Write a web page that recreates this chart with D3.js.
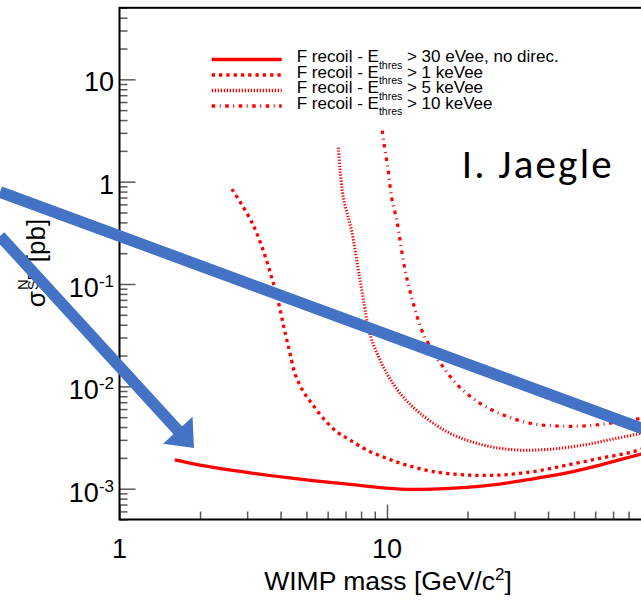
<!DOCTYPE html>
<html>
<head>
<meta charset="utf-8">
<script src="https://cdn.jsdelivr.net/npm/d3@7"></script>
<style>
  html, body { margin: 0; padding: 0; background: #fff; }
  svg { display: block; }
  svg text { font-family: "Liberation Sans", Arial, Helvetica, sans-serif; }
</style>
</head>
<body>
<svg id="chart" width="641" height="602"></svg>
<script>
// WIMP mass [GeV/c^2] and cross section [pb]
const massSolid  = [1.61, 2.0, 3.08, 4.73, 7.27, 11.2, 14.9, 19.9, 26.4, 35.2, 47.1, 62.6, 89, 100]
const sigmaSolid = [1.91e-3, 1.70e-3, 1.43e-3, 1.24e-3, 1.10e-3, 0.99e-3, 0.99e-3, 1.03e-3, 1.11e-3, 1.25e-3, 1.43e-3, 1.70e-3, 2.18e-3, 2.35e-3]

const mass1keV  = [2.63, 3.16, 3.76, 4.22, 4.34, 4.53, 4.87, 5.23, 5.78, 6.49, 7.27, 8.40, 9.97, 11.85, 14.86, 19.86, 26.5, 35.2, 47.0, 62.5, 83.3, 100]
const sigma1keV = [0.847, 0.377, 0.102, 0.0284, 0.021, 0.0133, 0.00886, 0.00683, 0.00487, 0.0036, 0.00299, 0.00239, 0.00198, 0.0017, 0.00147, 0.00136, 0.00136, 0.00147, 0.0017, 0.00198, 0.0023, 0.0027]

const mass5keV  = [6.58, 6.68, 6.87, 7.38, 7.93, 8.51, 8.77, 9.83, 11.19, 13.29, 17.2, 22.9, 30.5, 40.7, 54.2, 72.2, 89, 100]
const sigma5keV = [2.15, 1.30, 0.692, 0.327, 0.109, 0.0383, 0.0284, 0.0144, 0.00855, 0.00545, 0.00348, 0.00267, 0.00239, 0.00243, 0.00267, 0.00311, 0.00348, 0.0038]

const mass10keV  = [9.60, 9.75, 10.11, 10.41, 10.87, 11.68, 12.54, 13.48, 14.27, 16.01, 18.48, 22.27, 27.22, 34.24, 43.1, 54.2, 68.2, 89, 100]
const sigma10keV = [3.15, 2.33, 1.27, 0.697, 0.422, 0.137, 0.0648, 0.0355, 0.0263, 0.0162, 0.0101, 0.00683, 0.00525, 0.00436, 0.0041, 0.0041, 0.00436, 0.00487, 0.0052]

const seriesLabels = ["> 30 eVee, no direc.", "> 1 keVee", "> 5 keVee", "> 10 keVee"]

// blue annotation arrows, in data coordinates
const arrowStartMass  = [0.3575, 0.3575]
const arrowStartSigma = [0.7925, 0.2944]
const arrowEndMass    = [100, 1.899]
const arrowEndSigma   = [3.5e-3, 2.5e-3]
const arrowHasHead    = [false, true]

const xTickLabels = [1, 10]
const yTickLabels = [1e-3, 1e-2, 1e-1, 1, 10]

const svg = d3.select("#chart")
svg.append("rect").attr("width", 641).attr("height", 602).attr("fill", "#fff")

// scales (plot frame runs past the right border of the picture)
const x = d3.scaleLog().domain([1, 100]).range([119.5, 654.5])
const y = d3.scaleLog().domain([5e-4, 50]).range([519.5, 7.8])

const red = "#ff0000"
const blue = "#4472c4"
const dashes = [null, "3.3,4", "1.3,1.7", "3.5,4.5,1,4.5"]
const widths = [3.3, 3.3, 3, 3.2]

// clip for curves
svg.append("clipPath").attr("id", "plot-clip")
  .append("rect")
  .attr("x", x(1)).attr("y", y(50))
  .attr("width", x(100) - x(1)).attr("height", y(5e-4) - y(50))

// ticks
const isMajor = v => Math.abs(Math.log10(v) - Math.round(Math.log10(v))) < 1e-9
const yMinor = y.ticks().filter(v => !isMajor(v))
const yMajor = y.ticks().filter(isMajor)
const xMinor = x.ticks().filter(v => !isMajor(v))
const xMajor = x.ticks().filter(isMajor)

function tickAxis(axis, values, size, transform) {
  const g = svg.append("g")
    .attr("transform", transform)
    .call(axis.tickValues(values).tickSize(-size).tickFormat(""))
  g.select(".domain").remove()
  g.selectAll("line").attr("stroke", "#5a5a5a").attr("stroke-width", 1.5)
}
tickAxis(d3.axisLeft(y), yMinor, 8, `translate(${x(1)},0)`)
tickAxis(d3.axisLeft(y), yMajor, 16, `translate(${x(1)},0)`)
tickAxis(d3.axisBottom(x), xMinor, 8, `translate(0,${y(5e-4)})`)
tickAxis(d3.axisBottom(x), xMajor, 15, `translate(0,${y(5e-4)})`)

// frame
svg.append("rect")
  .attr("x", x(1)).attr("y", y(50))
  .attr("width", x(100) - x(1)).attr("height", y(5e-4) - y(50))
  .attr("fill", "none").attr("stroke", "#000").attr("stroke-width", 2)

// tick labels
svg.selectAll(".xlab")
  .data(xTickLabels)
  .enter().append("text")
  .attr("class", "xlab")
  .attr("x", d => x(d))
  .attr("y", 558)
  .attr("text-anchor", "middle")
  .attr("font-size", 27)
  .text(d => d)

const ylab = svg.selectAll(".ylab")
  .data(yTickLabels)
  .enter().append("text")
  .attr("class", "ylab")
  .attr("x", 114)
  .attr("y", d => y(d) + (d < 1 ? 13 : 12))
  .attr("text-anchor", "end")
  .attr("font-size", 27)
ylab.append("tspan").text(d => d < 1 ? "10" : d)
ylab.filter(d => d < 1).append("tspan")
  .attr("font-size", 17)
  .attr("dy", -10)
  .text(d => "-" + Math.round(-Math.log10(d)))

// axis titles
const xt = svg.append("text")
  .attr("x", 388).attr("y", 590)
  .attr("text-anchor", "middle")
  .attr("font-size", 26.5)
xt.append("tspan").text("WIMP mass [GeV/c")
xt.append("tspan").attr("font-size", 17).attr("dy", -10).text("2")
xt.append("tspan").attr("dy", 10).text("]")

const yt = svg.append("text")
  .attr("transform", "translate(45,263) rotate(-90)")
  .attr("text-anchor", "middle")
  .attr("font-size", 26)
yt.append("tspan").text("σ")
yt.append("tspan").attr("font-size", 15).attr("dx", 1).attr("dy", -17).text("N")
yt.append("tspan").attr("font-size", 15).attr("dx", -11).attr("dy", 10).text("SD")
yt.append("tspan").attr("dy", 7).text(" [pb]")

// curves
const series = [
  [massSolid, sigmaSolid],
  [mass1keV, sigma1keV],
  [mass5keV, sigma5keV],
  [mass10keV, sigma10keV]
]
const line = d3.line()
  .x(d => x(d[0]))
  .y(d => y(d[1]))
  .curve(d3.curveCatmullRom.alpha(0.5))

const curves = svg.append("g").attr("clip-path", "url(#plot-clip)")
series.forEach(([ms, ss], i) => {
  curves.append("path")
    .datum(ms.map((m, j) => [m, ss[j]]))
    .attr("d", line)
    .attr("fill", "none")
    .attr("stroke", red)
    .attr("stroke-width", widths[i])
    .attr("stroke-dasharray", dashes[i])
})

// legend
const legend = svg.append("g").attr("class", "legend")
seriesLabels.forEach((label, i) => {
  const base = 62.3 + i * 15.5
  legend.append("line")
    .attr("x1", 211.7).attr("x2", 281.7)
    .attr("y1", base - 2.8).attr("y2", base - 2.8)
    .attr("stroke", red)
    .attr("stroke-width", i === 0 ? 3.5 : 3.3)
    .attr("stroke-dasharray", dashes[i])
  const t = legend.append("text")
    .attr("x", 296.7).attr("y", base)
    .attr("font-size", 17)
  t.append("tspan").text("F recoil - E")
  t.append("tspan").attr("font-size", 10.5).attr("dy", 6.5).text("thres")
  t.append("tspan").attr("dy", -6.5).text(" " + label)
})

// annotation arrows
const arrows = svg.append("g").attr("class", "arrows")
arrowStartMass.forEach((m, i) => {
  const x0 = x(m), y0 = y(arrowStartSigma[i])
  const x1 = x(arrowEndMass[i]), y1 = y(arrowEndSigma[i])
  const len = Math.hypot(x1 - x0, y1 - y0)
  const ux = (x1 - x0) / len, uy = (y1 - y0) / len
  const headLen = arrowHasHead[i] ? 24 : 0
  const bx = x1 - ux * headLen, by = y1 - uy * headLen
  arrows.append("line")
    .attr("x1", x0).attr("y1", y0)
    .attr("x2", bx + ux * 1).attr("y2", by + uy * 1)
    .attr("stroke", blue)
    .attr("stroke-width", 11.5)
  if (arrowHasHead[i]) {
    const hw = 20
    arrows.append("polygon")
      .attr("points", [
        [x1, y1],
        [bx - uy * hw, by + ux * hw],
        [bx + uy * hw, by - ux * hw]
      ].map(p => p.join(",")).join(" "))
      .attr("fill", blue)
  }
})

// author stamp
svg.append("text")
  .attr("x", 461.7).attr("y", 178.3)
  .style("font-family", "Carlito, Lato, 'Open Sans', sans-serif")
  .attr("font-size", 41)
  .attr("textLength", 150)
  .attr("lengthAdjust", "spacing")
  .attr("fill", "#000")
  .text("I. Jaegle")
</script>
</body>
</html>
